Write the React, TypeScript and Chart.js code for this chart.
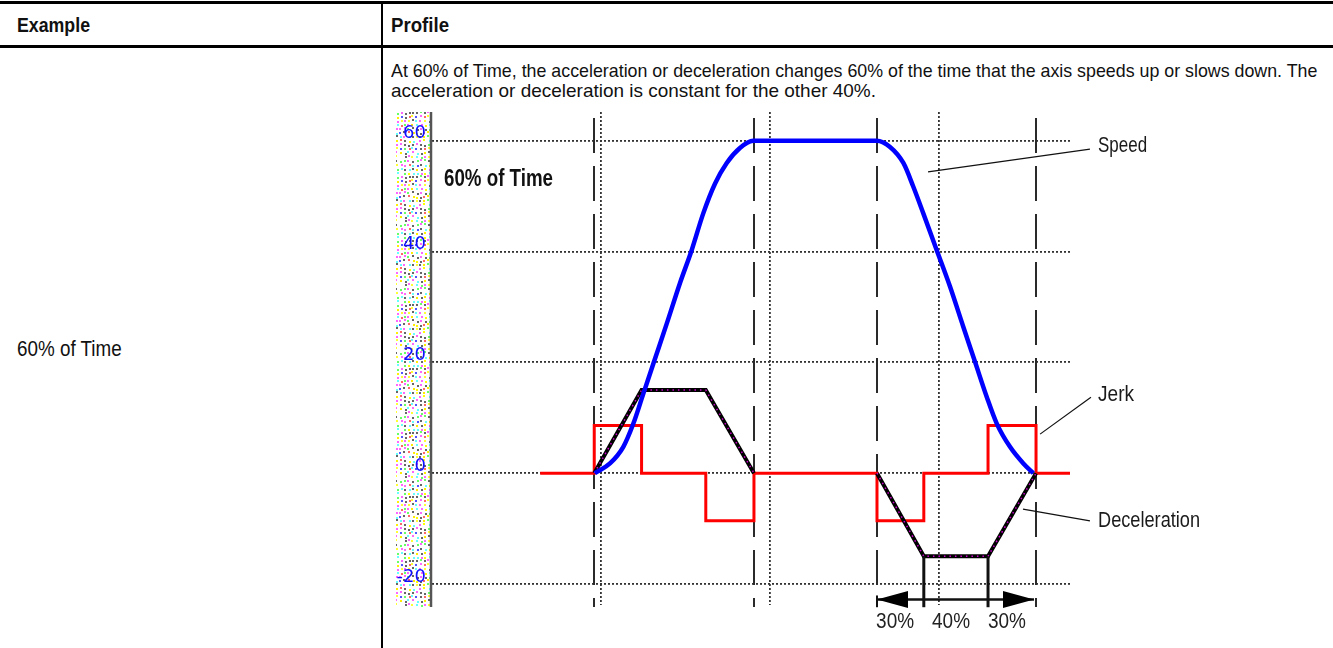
import React, { useEffect, useRef } from "react";
import { Chart, registerables } from "chart.js";

Chart.register(...registerables);

// ---------------- data ----------------
const HEADER_LABELS = ["Example", "Profile"];
const ROW_LABEL = "60% of Time";
const DESCRIPTION = [
  "At 60% of Time, the acceleration or deceleration changes 60% of the time that the axis speeds up or slows down. The",
  "acceleration or deceleration is constant for the other 40%.",
];
const INNER_TITLE = "60% of Time";

const X_MIN = 0;
const X_MAX = 3.775;
const Y_MIN = -23.8;
const Y_MAX = 65.2;
const Y_TICKS = [-20, 0, 20, 40, 60];
const X_GRID = [1, 2, 3];
const PHASE_MARKS = [0.96, 1.905, 2.633, 3.574];

const SPEED_T = [0.964, 1.053, 1.132, 1.192, 1.251, 1.31, 1.389, 1.467, 1.537, 1.605, 1.675, 1.744, 1.822, 1.9,
  2.631, 2.71, 2.789, 2.848, 2.907, 2.986, 3.065, 3.144, 3.213, 3.282, 3.341, 3.42, 3.499, 3.558];
const SPEED_V = [0, 1.75, 4.75, 9.0, 14.4, 19.8, 27.0, 34.3, 40.3, 46.9, 52.3, 56.0, 58.7, 60,
  60, 58.9, 56.0, 51.7, 46.9, 40.3, 33.7, 26.4, 20.1, 13.8, 9.0, 4.75, 1.75, 0];

const ACCEL_T = [0.96, 1.24, 1.62, 1.905, 2.27, 2.633, 2.91, 3.29, 3.574];
const ACCEL_V = [0, 15, 15, 0, null, 0, -15, -15, 0];

const JERK_T = [0.64, 0.96, 0.96, 1.24, 1.24, 1.62, 1.62, 1.905, 1.905, 2.633, 2.633, 2.91, 2.91, 3.29, 3.29, 3.574, 3.574, 3.775];
const JERK_V = [0, 0, 8.6, 8.6, 0, 0, -8.6, -8.6, 0, 0, -8.6, -8.6, 0, 0, 8.6, 8.6, 0, 0];

const CALLOUT_LABELS = ["Speed", "Jerk", "Deceleration"];
const CALLOUT_FROM_T = [2.935, 3.598, 3.497];
const CALLOUT_FROM_V = [54.4, 7.05, -6.5];
const CALLOUT_TO_T = [3.893, 3.899, 3.893];
const CALLOUT_TO_V = [58.5, 13.7, -8.6];
const CALLOUT_TEXT_T = 3.941;
const CALLOUT_TEXT_V = [59.1, 14.1, -8.7];

const PHASE_BOUNDS = [2.633, 2.91, 3.29, 3.574];
const PHASE_LABELS = ["30%", "40%", "30%"];
const PHASE_LABEL_T = [2.74, 3.071, 3.402];
const PHASE_ARROW_V = -22.8;
const PHASE_BAR_END_V = -24.2;
const PHASE_LABEL_V = -26.9;
const INNER_TITLE_T = 0.071;
const INNER_TITLE_V = 52.9;

// ---------------- styles ----------------
const SANS = '"Liberation Sans", Arial, sans-serif';

// text widths (px), used to condense the text
const W_CALLOUT = [49, 36, 102];
const W_PHASE = 38;
const W_INNER = 109;

let measureCtx: CanvasRenderingContext2D | null = null;
function measure(text: string, font: string): number {
  if (!measureCtx) measureCtx = document.createElement("canvas").getContext("2d");
  if (!measureCtx) return text.length * 8;
  measureCtx.font = font;
  return measureCtx.measureText(text).width;
}

function drawFitted(ctx: CanvasRenderingContext2D, text: string, x: number, y: number, w: number, align: "left" | "center") {
  const m = ctx.measureText(text).width;
  const k = m > 0 ? w / m : 1;
  ctx.save();
  ctx.translate(x, y);
  ctx.scale(k, 1);
  ctx.textAlign = align;
  ctx.textBaseline = "middle";
  ctx.fillText(text, 0, 0);
  ctx.restore();
}

function makeSpeckle(): CanvasPattern | string {
  const c = document.createElement("canvas");
  c.width = 64;
  c.height = 64;
  const g = c.getContext("2d");
  if (!g) return "#f6f2e8";
  g.fillStyle = "#ffffff";
  g.fillRect(0, 0, 64, 64);
  const palette = ["#ffff00", "#ff66ff", "#66ffff", "#ffff33", "#5555ff", "#66ff66", "#ff6666", "#ffee00", "#ff66ff", "#666666", "#ffffff", "#66ffff"];
  for (let j = 0; j < 16; j++) {
    for (let i = 0; i < 16; i++) {
      const h = ((i * 73856093) ^ (j * 19349663) ^ (i * j * 83492791)) >>> 0;
      g.fillStyle = palette[h % palette.length];
      g.fillRect(i * 4 + ((h >> 5) % 2), j * 4 + ((h >> 7) % 2), 2, 2);
    }
  }
  const p = g.createPattern(c, "repeat");
  return p || "#f6f2e8";
}

const decor = {
  id: "decor",
  beforeDraw(chart: any) {
    const { ctx, chartArea: a } = chart;
    ctx.save();
    ctx.fillStyle = makeSpeckle();
    ctx.fillRect(a.left - 36, a.top, 34, a.bottom - a.top + 2);
    ctx.restore();
  },
  beforeDatasetsDraw(chart: any) {
    const { ctx, chartArea: a, scales } = chart;
    const xs = scales.x;
    ctx.save();
    ctx.strokeStyle = "#2a2a2a";
    ctx.lineWidth = 2;
    ctx.setLineDash([35, 13]);
    PHASE_MARKS.forEach((t) => {
      const px = Math.round(xs.getPixelForValue(t));
      ctx.beginPath();
      ctx.moveTo(px, a.top + 6);
      ctx.lineTo(px, a.bottom + 2);
      ctx.stroke();
    });
    ctx.setLineDash([]);
    ctx.strokeStyle = "#555";
    ctx.lineWidth = 2.5;
    ctx.beginPath();
    ctx.moveTo(a.left - 1, a.top);
    ctx.lineTo(a.left - 1, a.bottom + 2);
    ctx.stroke();
    ctx.restore();
  },
  afterDraw(chart: any) {
    const { ctx, scales } = chart;
    const xs = scales.x;
    const ys = scales.y;
    const X = (t: number) => xs.getPixelForValue(t);
    const Y = (v: number) => ys.getPixelForValue(v);
    ctx.save();
    ctx.fillStyle = "#111";
    ctx.font = `bold 23px ${SANS}`;
    drawFitted(ctx, INNER_TITLE, X(INNER_TITLE_T), Y(INNER_TITLE_V), W_INNER, "left");

    ctx.strokeStyle = "#111";
    ctx.lineWidth = 1.2;
    ctx.font = `22px ${SANS}`;
    ctx.fillStyle = "#1a1a1a";
    CALLOUT_LABELS.forEach((lab, i) => {
      ctx.beginPath();
      ctx.moveTo(X(CALLOUT_FROM_T[i]), Y(CALLOUT_FROM_V[i]));
      ctx.lineTo(X(CALLOUT_TO_T[i]), Y(CALLOUT_TO_V[i]));
      ctx.stroke();
      drawFitted(ctx, lab, X(CALLOUT_TEXT_T), Y(CALLOUT_TEXT_V[i]), W_CALLOUT[i], "left");
    });

    const yA = Y(PHASE_ARROW_V);
    const xL = X(PHASE_BOUNDS[0]);
    const xR = X(PHASE_BOUNDS[3]) - 2;
    ctx.lineWidth = 2.5;
    ctx.beginPath();
    ctx.moveTo(xL, yA);
    ctx.lineTo(xR, yA);
    ctx.stroke();
    ctx.fillStyle = "#000";
    ctx.beginPath();
    ctx.moveTo(xL, yA);
    ctx.lineTo(xL + 31, yA - 8.5);
    ctx.lineTo(xL + 31, yA + 8.5);
    ctx.closePath();
    ctx.fill();
    ctx.beginPath();
    ctx.moveTo(xR, yA);
    ctx.lineTo(xR - 31, yA - 8.5);
    ctx.lineTo(xR - 31, yA + 8.5);
    ctx.closePath();
    ctx.fill();
    ctx.lineWidth = 3;
    [PHASE_BOUNDS[1], PHASE_BOUNDS[2]].forEach((t) => {
      const px = X(t);
      ctx.beginPath();
      ctx.moveTo(px, Y(-15));
      ctx.lineTo(px, Y(PHASE_BAR_END_V));
      ctx.stroke();
    });
    ctx.lineWidth = 2;
    ctx.beginPath();
    ctx.moveTo(xL, yA - 4);
    ctx.lineTo(xL, Y(PHASE_BAR_END_V));
    ctx.stroke();
    ctx.fillStyle = "#222";
    ctx.font = `22px ${SANS}`;
    PHASE_LABELS.forEach((lab, i) => {
      drawFitted(ctx, lab, X(PHASE_LABEL_T[i]), Y(PHASE_LABEL_V), W_PHASE, "center");
    });
    ctx.restore();
  },
};

const pts = (t: number[], v: (number | null)[]) => t.map((x, i) => ({ x, y: v[i] }));

function ProfileChart() {
  const ref = useRef<HTMLCanvasElement | null>(null);
  useEffect(() => {
    if (!ref.current) return;
    const chart = new Chart(ref.current, {
      type: "line",
      data: {
        datasets: [
          { label: "Speed", data: pts(SPEED_T, SPEED_V), borderColor: "#0000ff", borderWidth: 4.5, pointRadius: 0, cubicInterpolationMode: "monotone", order: 0 } as any,
          { label: "Acceleration dots", data: pts(ACCEL_T, ACCEL_V), borderColor: "#d000d0", borderWidth: 1.5, borderDash: [1.5, 4], pointRadius: 0, order: 1 } as any,
          { label: "Acceleration", data: pts(ACCEL_T, ACCEL_V), borderColor: "#000000", borderWidth: 4, pointRadius: 0, order: 2 } as any,
          { label: "Jerk", data: pts(JERK_T, JERK_V), borderColor: "#ff0000", borderWidth: 3, pointRadius: 0, order: 3 } as any,
        ],
      },
      options: {
        responsive: false,
        animation: false,
        devicePixelRatio: 1,
        layout: { padding: { left: 0, top: 12, right: 263, bottom: 43 } },
        plugins: { legend: { display: false }, tooltip: { enabled: false } },
        scales: {
          x: {
            type: "linear",
            min: X_MIN,
            max: X_MAX,
            afterBuildTicks: (s: any) => { s.ticks = X_GRID.map((v) => ({ value: v })); },
            afterFit: (s: any) => { s.height = 0; s.paddingLeft = 0; s.paddingRight = 0; s.paddingTop = 0; s.paddingBottom = 0; },
            ticks: { display: false },
            grid: { color: "#333", lineWidth: 1.8, drawTicks: false },
            border: { display: false, dash: [2, 2] },
          },
          y: {
            type: "linear",
            min: Y_MIN,
            max: Y_MAX,
            afterBuildTicks: (s: any) => { s.ticks = Y_TICKS.map((v) => ({ value: v })); },
            afterFit: (s: any) => { s.width = 48; s.paddingTop = 0; s.paddingBottom = 0; s.paddingLeft = 0; s.paddingRight = 0; },
            ticks: { color: "#1010ff", font: { family: "DejaVu Sans", size: 18 }, padding: 6, labelOffset: -7 },
            grid: { color: "#333", lineWidth: 1.8, drawTicks: false },
            border: { display: false, dash: [2, 2] },
          },
        },
      } as any,
      plugins: [decor],
    });
    return () => chart.destroy();
  }, []);
  return (
    <canvas
      ref={ref}
      width={949}
      height={548}
      style={{ position: "absolute", left: 384, top: 100, width: 949, height: 548 }}
    />
  );
}

function FitText(props: { text: string; left: number; center: number; size: number; width: number; bold?: boolean }) {
  const { text, left, center, size, width, bold } = props;
  const font = `${bold ? "bold " : ""}${size}px ${SANS}`;
  const m = measure(text, font);
  const k = m > 0 ? width / m : 1;
  return (
    <div
      style={{
        position: "absolute",
        left,
        top: center - size / 2,
        fontFamily: SANS,
        fontSize: size,
        fontWeight: bold ? 700 : 400,
        lineHeight: `${size}px`,
        whiteSpace: "nowrap",
        color: "#111",
        transform: `scaleX(${k})`,
        transformOrigin: "0 0",
      }}
    >
      {text}
    </div>
  );
}

export default function App() {
  return (
    <div style={{ position: "absolute", left: 0, top: 0, width: 1333, height: 648, background: "#fff", overflow: "hidden" }}>
      <div style={{ position: "absolute", left: 0, top: 1, width: 1333, height: 3, background: "#000" }} />
      <div style={{ position: "absolute", left: 0, top: 45, width: 1333, height: 2.5, background: "#000" }} />
      <div style={{ position: "absolute", left: 381, top: 1, width: 2, height: 647, background: "#000" }} />
      <FitText text={HEADER_LABELS[0]} left={17} center={24} size={21} width={73} bold />
      <FitText text={HEADER_LABELS[1]} left={391} center={24} size={21} width={58} bold />
      <FitText text={DESCRIPTION[0]} left={391} center={70} size={19} width={927} />
      <FitText text={DESCRIPTION[1]} left={391} center={90} size={19} width={485} />
      <FitText text={ROW_LABEL} left={17} center={349} size={22} width={105} />
      <ProfileChart />
    </div>
  );
}
